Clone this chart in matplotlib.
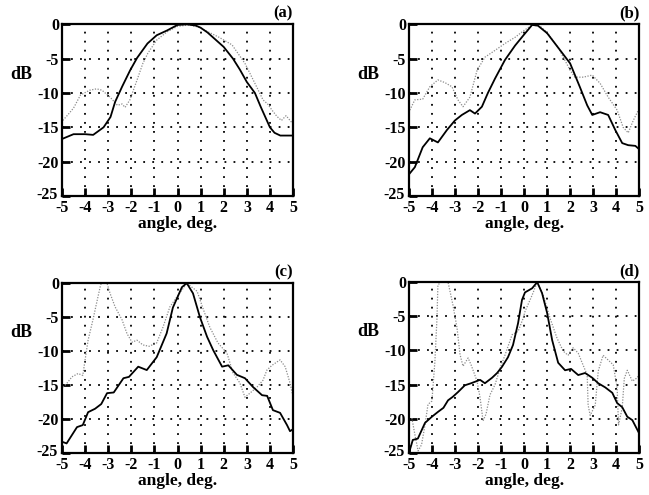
import matplotlib
matplotlib.use("Agg")
import matplotlib.pyplot as plt
from matplotlib.transforms import ScaledTranslation

plt.rcParams['font.family'] = ['Liberation Serif', 'DejaVu Serif']
plt.rcParams['font.weight'] = 'bold'
plt.rcParams['axes.unicode_minus'] = False

# ---- data (angle in deg, level in dB) ----
# panel (a)
a_solid_x = [-5.0, -4.5, -4.0, -3.65, -3.2, -2.9, -2.7, -2.4, -2.05, -1.75, -1.3, -0.9, -0.45, 0.0, 0.4,
             0.8, 1.0, 1.3, 1.6, 2.0, 2.4, 2.7, 3.0, 3.35, 3.6, 4.0, 4.2, 4.45, 5.0]
a_solid_y = [-16.7, -16.0, -16.0, -16.1, -15.0, -13.5, -11.3, -9.1, -6.7, -4.9, -2.8, -1.6, -0.9, -0.1, 0.0,
             -0.2, -0.5, -1.2, -2.1, -3.3, -5.0, -6.6, -8.4, -10.0, -12.0, -15.0, -15.8, -16.2, -16.2]
a_dot_x = [-4.96, -4.7, -4.5, -4.2, -3.8, -3.5, -3.27, -2.92, -2.6, -2.4, -2.27, -2.06, -1.75, -1.5, -1.28,
           -0.9, -0.45, 0.0, 0.5, 0.9, 1.32, 1.8, 2.36, 2.92, 3.35, 3.7, 3.9, 4.09, 4.3, 4.5, 4.7, 4.87, 5.0]
a_dot_y = [-14.0, -13.0, -12.2, -10.3, -9.6, -9.4, -9.6, -10.6, -11.8, -11.6, -12.1, -11.0, -8.1, -5.7, -4.2,
           -2.3, -1.1, -0.3, -0.1, -0.4, -1.1, -1.9, -3.0, -5.7, -8.6, -11.0, -11.6, -12.5, -13.4, -14.0, -13.3, -14.0, -14.5]

# panel (b)
b_solid_x = [-4.96, -4.74, -4.4, -4.09, -3.74, -3.35, -3.0, -2.7, -2.35, -2.13, -1.83, -1.57, -1.26, -0.83,
             -0.39, 0.0, 0.35, 0.6, 1.0, 1.57, 2.0, 2.43, 2.74, 2.96, 3.3, 3.65, 3.96, 4.26, 4.52, 4.83, 5.0]
b_solid_y = [-21.7, -20.8, -17.9, -16.6, -17.2, -15.4, -14.0, -13.2, -12.5, -13.0, -12.0, -10.0, -7.9, -5.2,
             -3.1, -1.5, -0.1, -0.2, -1.3, -3.8, -5.7, -9.2, -11.8, -13.2, -12.8, -13.2, -15.4, -17.3, -17.6, -17.7, -18.2]
b_dot_x = [-4.96, -4.74, -4.4, -4.09, -3.74, -3.43, -3.13, -2.87, -2.65, -2.35, -2.04, -1.7, -1.26, -0.83,
           -0.39, 0.0, 0.35, 0.7, 1.0, 1.5, 2.0, 2.2, 2.57, 2.96, 3.3, 3.65, 4.04, 4.3, 4.52, 4.74, 4.96]
b_dot_y = [-12.5, -11.0, -10.9, -9.1, -8.1, -8.5, -9.1, -11.0, -12.0, -10.6, -6.7, -4.8, -3.8, -2.8,
           -1.9, -0.9, -0.1, -0.3, -1.2, -3.5, -6.7, -7.7, -7.7, -7.4, -8.6, -10.6, -12.5, -15.0, -15.8, -14.0, -12.5]

# panel (c)
c_solid_x = [-4.96, -4.8, -4.35, -4.1, -3.87, -3.57, -3.3, -3.05, -2.76, -2.34, -2.1, -1.7, -1.33, -0.9,
             -0.47, -0.2, 0.19, 0.4, 0.67, 0.97, 1.28, 1.55, 1.93, 2.2, 2.57, 2.92, 3.27, 3.66, 3.88, 4.13,
             4.44, 4.74, 4.87, 5.0]
c_solid_y = [-23.4, -23.6, -21.2, -20.9, -19.0, -18.5, -17.8, -16.2, -16.1, -14.0, -13.8, -12.3, -12.8, -10.9,
             -7.4, -3.6, -0.6, 0.0, -1.5, -5.0, -7.9, -9.9, -12.3, -12.1, -13.5, -14.0, -15.3, -16.5, -16.6, -18.7,
             -19.1, -20.9, -21.8, -21.5]
c_dot_x = [-4.96, -4.8, -4.57, -4.3, -4.1, -4.0, -3.87, -3.66, -3.5, -3.35, -3.3, -3.05, -2.92, -2.7, -2.4,
           -2.19, -1.97, -1.75, -1.5, -1.23, -0.9, -0.63, -0.33, -0.02, 0.28, 0.4, 0.85, 1.1, 1.4, 1.75, 2.14,
           2.4, 2.7, 2.92, 3.1, 3.44, 3.7, 3.87, 4.09, 4.44, 4.66, 4.87, 5.0]
c_dot_y = [-15.3, -14.8, -13.8, -13.3, -13.6, -11.3, -8.4, -5.4, -2.9, -0.6, 0.0, 0.0, -1.5, -3.5, -5.4,
           -7.4, -8.7, -8.4, -9.1, -9.3, -8.8, -6.5, -3.5, -2.0, -0.6, 0.0, -1.2, -3.7, -6.5, -8.8, -10.3,
           -13.2, -14.7, -16.8, -16.3, -15.3, -14.3, -12.8, -12.1, -11.3, -12.3, -14.7, -16.7]

# panel (d)
d_solid_x = [-4.96, -4.83, -4.61, -4.3, -4.0, -3.74, -3.5, -3.3, -3.1, -2.87, -2.57, -2.3, -1.91, -1.7,
             -1.39, -1.17, -0.96, -0.7, -0.48, -0.26, -0.09, 0.04, 0.35, 0.57, 0.78, 1.0, 1.22, 1.48, 1.78,
             2.04, 2.35, 2.65, 2.96, 3.22, 3.52, 3.83, 4.04, 4.26, 4.48, 4.7, 4.96]
d_solid_y = [-24.6, -23.1, -22.9, -20.6, -19.7, -19.0, -18.4, -17.3, -16.8, -16.1, -15.1, -14.8, -14.3, -14.8,
             -14.0, -13.3, -12.4, -11.0, -9.2, -6.0, -2.6, -1.5, -0.9, 0.0, -1.6, -4.5, -8.5, -11.8, -12.9,
             -12.7, -13.6, -13.3, -14.0, -14.8, -15.4, -16.2, -17.7, -18.3, -19.7, -20.2, -21.9]
d_dot_x = [-4.87, -4.74, -4.6, -4.45, -4.3, -4.17, -4.0, -3.87, -3.78, -3.74, -3.6, -3.3, -3.09, -2.91,
           -2.78, -2.65, -2.43, -2.3, -2.04, -1.91, -1.78, -1.65, -1.48, -1.26, -1.04, -0.83, -0.52, -0.26,
           -0.04, 0.04, 0.35, 0.57, 0.83, 1.13, 1.43, 1.7, 1.91, 2.13, 2.35, 2.74, 2.78, 2.87, 3.09, 3.22,
           3.43, 3.65, 3.87, 4.04, 4.1, 4.26, 4.35, 4.48, 4.7, 4.91, 5.0]
d_dot_y = [-19.9, -22.3, -24.7, -23.8, -20.9, -17.9, -17.4, -11.6, -5.3, -0.4, 0.0, 0.0, -3.3, -6.7,
           -10.6, -12.3, -11.1, -12.1, -14.5, -16.9, -20.3, -19.3, -16.5, -15.0, -12.6, -10.7, -7.7, -7.2,
           -5.3, -4.3, -1.9, 0.0, -1.9, -5.3, -8.2, -10.1, -10.7, -9.6, -10.4, -13.6, -18.0, -19.5, -18.0, -13.0,
           -10.7, -11.4, -12.1, -15.5, -20.9, -18.4, -14.1, -12.9, -14.5, -14.0, -13.5]

panels = [
    ('(a)', a_solid_x, a_solid_y, a_dot_x, a_dot_y),
    ('(b)', b_solid_x, b_solid_y, b_dot_x, b_dot_y),
    ('(c)', c_solid_x, c_solid_y, c_dot_x, c_dot_y),
    ('(d)', d_solid_x, d_solid_y, d_dot_x, d_dot_y),
]
x_ticks = list(range(-5, 6))
y_ticks = [0, -5, -10, -15, -20, -25]

fig = plt.figure(figsize=(6.49, 4.95), dpi=100)
# axes positions in figure fractions: left, bottom, width, height
boxes = [
    (0.0955, 0.604, 0.356, 0.347),
    (0.630, 0.604, 0.355, 0.347),
    (0.0955, 0.085, 0.356, 0.343),
    (0.630, 0.085, 0.355, 0.345),
]

for (tag, sx, sy, dx, dy), box in zip(panels, boxes):
    ax = fig.add_axes(box)
    ax.plot(dx, dy, color='#8c8c8c', lw=0.9, ls=(0, (1, 1.2)))
    ax.plot(sx, sy, color='black', lw=1.3)
    ax.set_xlim(-5, 5)
    ax.set_ylim(-25, 0)
    ax.set_xticks(x_ticks)
    ax.set_yticks(y_ticks)
    ax.set_xticklabels([str(v) for v in x_ticks])
    ax.set_yticklabels([str(v) for v in y_ticks])
    ax.tick_params(axis='both', direction='in', length=6, width=2, labelsize=11.5,
                   top=False, right=False)
    ax.tick_params(axis='x', pad=3)
    ax.tick_params(axis='y', pad=2)
    # lift the bottom y label a little so it clears the first x label
    lbl = ax.get_yticklabels()[-1]
    lbl.set_transform(lbl.get_transform() + ScaledTranslation(-1 / 72, 2 / 72, fig.dpi_scale_trans))
    ax.grid(True, color='black', lw=1.3, ls=(0, (1, 4)))
    for sp in ax.spines.values():
        sp.set_linewidth(1.6)
    ax.set_xlabel('angle, deg.', fontsize=12.5, fontweight='bold', labelpad=0)
    ax.text(-0.175, 0.71, 'dB', transform=ax.transAxes, ha='center', va='center',
            fontsize=13, fontweight='bold')
    ax.text(1.0, 1.015, tag, transform=ax.transAxes, ha='right', va='bottom',
            fontsize=12, fontweight='bold')

fig.savefig('out.png', dpi=100, facecolor='white')
